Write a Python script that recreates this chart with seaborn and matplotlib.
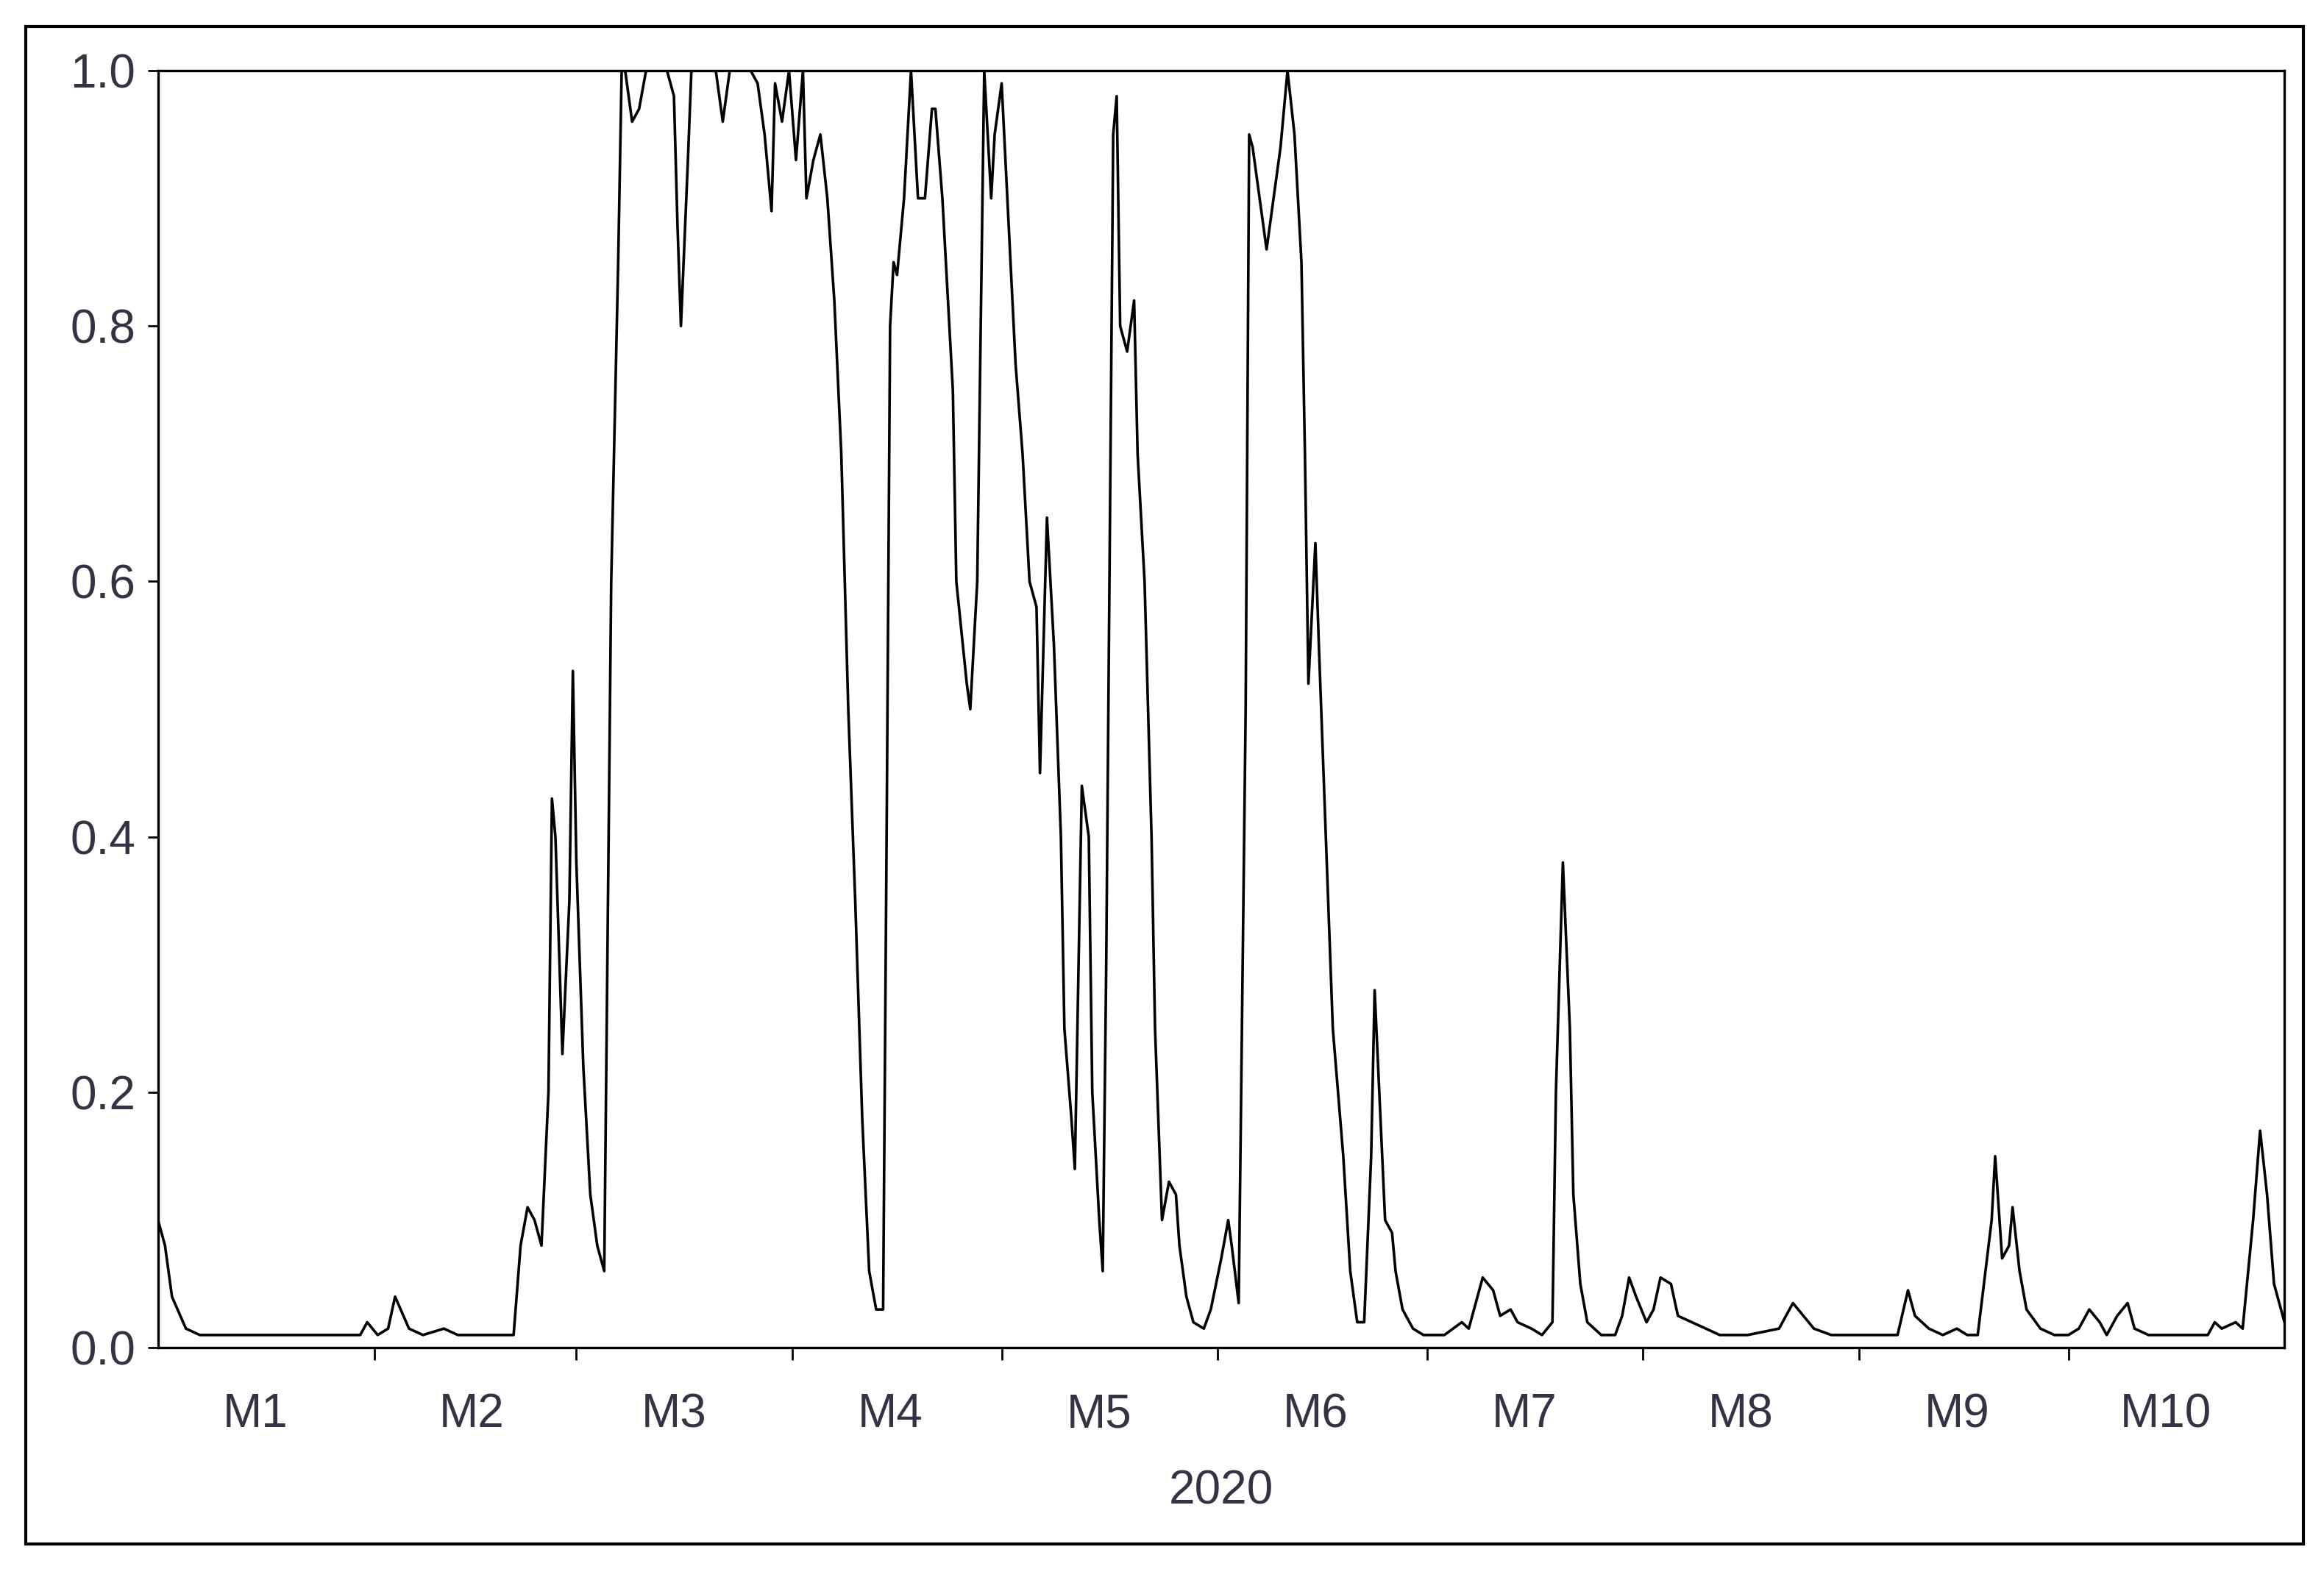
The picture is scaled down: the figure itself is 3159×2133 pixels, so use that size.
import numpy as np
import pandas as pd
import matplotlib
matplotlib.use("Agg")
import matplotlib.pyplot as plt
import seaborn as sns

# day of year offset (from 2020-01-01) and smoothed regime probability
day = [0, 1, 2, 4, 6, 29, 30, 31.5, 33, 34, 36, 38, 41, 43, 51, 52, 53, 54, 55, 56, 56.5, 57, 58, 59, 59.5,
       60, 61, 62, 63, 64, 65, 66, 66.5, 67, 68, 69, 70, 72, 73, 74, 74.5, 75, 76, 76.5, 78, 80, 81, 82, 83.5,
       85, 86, 87, 88, 88.5, 89.5, 90.5, 91.5, 92.5, 93, 94, 95, 96, 97, 98, 99, 100, 101, 102, 103, 104, 104.5,
       105, 105.5, 106, 107, 108, 109, 110, 111, 111.5, 112.5, 114, 114.5, 116, 116.5, 117.5, 118.5, 119.5, 120,
       121, 122, 123, 124, 125, 126, 126.5, 127.5, 128.5, 129.5, 130, 131, 131.5, 132.5, 133.5, 134, 135, 135.5,
       136, 137, 137.5, 138, 139, 140, 140.5, 141.5, 142.5, 143, 144, 145, 146, 146.5, 147.5, 148.5, 150, 151,
       152.5, 153.5, 154, 155, 156, 156.5, 157, 158, 159, 160, 161, 162, 163, 164, 164.5, 165, 166, 166.5, 167.5,
       168.5, 170, 171, 172, 173, 174, 174.5, 175, 176, 177, 177.5, 178.5, 180, 181.5, 184.5, 187, 188, 190,
       191.5, 192.5, 194, 195, 197, 198.5, 200, 200.5, 201.5, 202.5, 203, 204, 205, 207, 209, 210, 211, 212,
       213.5, 214.5, 215.5, 217, 218, 220, 222, 224, 228, 232.5, 234.5, 236, 237.5, 240, 243, 247.5, 249.5, 251,
       252, 254, 256, 258, 259.5, 261, 263, 263.5, 264.5, 265.5, 266, 267, 268, 270, 272, 274, 275.5, 277, 278.5,
       279.5, 281, 282.5, 283.5, 285.5, 290, 294, 295, 296, 298, 299, 300.5, 301.5, 302.5, 303.5, 305]
prob = [0.10, 0.08, 0.04, 0.015, 0.01, 0.01, 0.02, 0.01, 0.015, 0.04, 0.015, 0.01, 0.015, 0.01, 0.01, 0.08, 0.11,
        0.10, 0.08, 0.20, 0.43, 0.40, 0.23, 0.35, 0.53, 0.38, 0.22, 0.12, 0.08, 0.06, 0.60, 0.85, 1.0, 1.0, 0.96,
        0.97, 1.0, 1.0, 1.0, 0.98, 0.88, 0.80, 0.93, 1.0, 1.0, 1.0, 0.96, 1.0, 1.0, 1.0, 0.99, 0.95, 0.89, 0.99,
        0.96, 1.0, 0.93, 1.0, 0.90, 0.93, 0.95, 0.90, 0.82, 0.70, 0.50, 0.35, 0.18, 0.06, 0.03, 0.03, 0.40, 0.80,
        0.85, 0.84, 0.90, 1.0, 0.90, 0.90, 0.97, 0.97, 0.90, 0.75, 0.60, 0.52, 0.50, 0.60, 1.0, 0.90, 0.95, 0.99,
        0.88, 0.77, 0.70, 0.60, 0.58, 0.45, 0.65, 0.55, 0.40, 0.25, 0.18, 0.14, 0.44, 0.40, 0.20, 0.10, 0.06, 0.30,
        0.95, 0.98, 0.80, 0.78, 0.82, 0.70, 0.60, 0.40, 0.25, 0.10, 0.13, 0.12, 0.08, 0.04, 0.02, 0.015, 0.03,
        0.07, 0.10, 0.08, 0.035, 0.50, 0.95, 0.94, 0.90, 0.86, 0.90, 0.94, 1.0, 0.95, 0.85, 0.70, 0.52, 0.63, 0.55,
        0.40, 0.25, 0.15, 0.06, 0.02, 0.02, 0.15, 0.28, 0.22, 0.10, 0.09, 0.06, 0.03, 0.015, 0.01, 0.01, 0.02,
        0.015, 0.055, 0.045, 0.025, 0.03, 0.02, 0.015, 0.01, 0.02, 0.20, 0.38, 0.25, 0.12, 0.05, 0.02, 0.01, 0.01,
        0.025, 0.055, 0.04, 0.02, 0.03, 0.055, 0.05, 0.025, 0.02, 0.015, 0.01, 0.01, 0.015, 0.035, 0.025, 0.015,
        0.01, 0.01, 0.01, 0.01, 0.045, 0.025, 0.015, 0.01, 0.015, 0.01, 0.01, 0.10, 0.15, 0.07, 0.08, 0.11, 0.06,
        0.03, 0.015, 0.01, 0.01, 0.015, 0.03, 0.02, 0.01, 0.025, 0.035, 0.015, 0.01, 0.01, 0.01, 0.02, 0.015, 0.02,
        0.015, 0.10, 0.17, 0.12, 0.05, 0.02]
month_labels = ["M1", "M2", "M3", "M4", "M5", "M6", "M7", "M8", "M9", "M10"]
year_label = "2020"

start = pd.Timestamp("2020-01-01")
df = pd.DataFrame({"date": start + pd.to_timedelta(day, unit="D"), "prob": prob})

sns.set_theme(style="white")
plt.rcParams["font.family"] = ["Liberation Sans", "DejaVu Sans"]

fig = plt.figure(figsize=(15.795, 10.665), dpi=200)
ax = fig.add_axes([0.068, 0.141, 0.915, 0.814])
sns.lineplot(data=df, x="date", y="prob", ax=ax, color="black", linewidth=1.3)

ax.set_xlim(start, pd.Timestamp("2020-11-01"))
ax.set_ylim(0, 1.0)
ax.set_yticks([0, 0.2, 0.4, 0.6, 0.8, 1.0])
ax.set_yticklabels([f"{v:.1f}" for v in [0, 0.2, 0.4, 0.6, 0.8, 1.0]], fontsize=23, color="#333344")

bounds = pd.date_range("2020-02-01", "2020-10-01", freq="MS")
mids = pd.date_range("2020-01-01", "2020-10-01", freq="MS") + pd.Timedelta(days=14)
ax.set_xticks(bounds)
ax.set_xticklabels([])
ax.set_xticks(mids, minor=True)
ax.set_xticklabels(month_labels, minor=True, fontsize=23, color="#333344")
ax.tick_params(axis="x", which="major", direction="out", length=6, width=1, color="black", bottom=True)
ax.tick_params(axis="x", which="minor", length=0, pad=22)
ax.tick_params(axis="y", direction="out", length=5, width=1, color="black", left=True, pad=6)
ax.set_xlabel(year_label, fontsize=23, color="#333344", labelpad=16)
ax.set_ylabel("")
for s in ax.spines.values():
    s.set_color("black")
    s.set_linewidth(1.2)

fig.patches.append(plt.Rectangle((0.011, 0.016), 0.98, 0.967, transform=fig.transFigure,
                                 fill=False, edgecolor="black", linewidth=1.5))
fig.savefig("out.png", dpi=200)
